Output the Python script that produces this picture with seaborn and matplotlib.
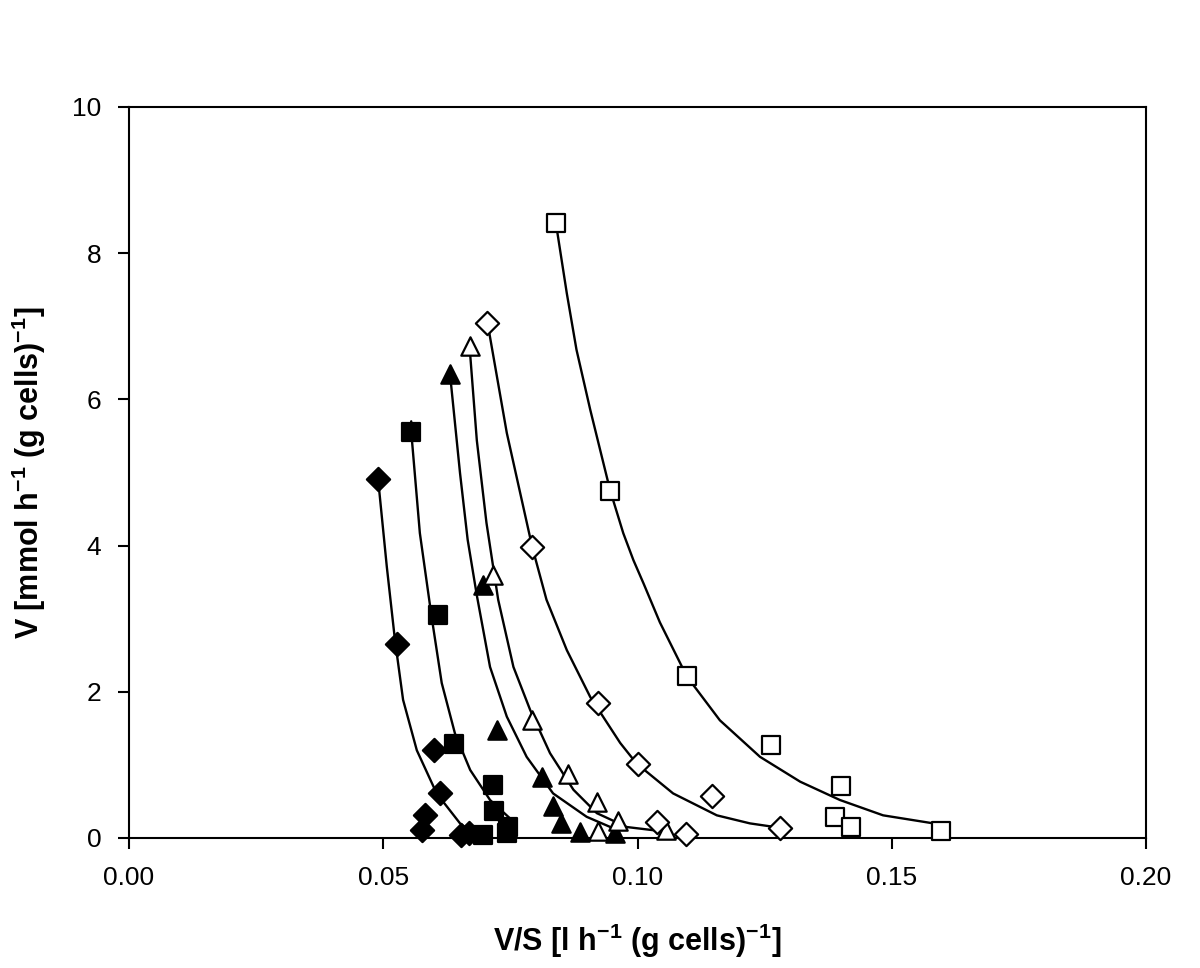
import matplotlib
matplotlib.use("Agg")
import matplotlib.pyplot as plt
import seaborn as sns

# measured points, six series
fd_x = [0.0490, 0.0528, 0.0600, 0.0611, 0.0582, 0.0577, 0.0652, 0.0669]
fd_y = [4.91, 2.65, 1.21, 0.62, 0.32, 0.11, 0.04, 0.07]
fs_x = [0.0555, 0.0607, 0.0640, 0.0716, 0.0718, 0.0697, 0.0746, 0.0744]
fs_y = [5.56, 3.05, 1.29, 0.725, 0.37, 0.04, 0.15, 0.07]
ft_x = [0.0631, 0.0697, 0.0724, 0.0813, 0.0834, 0.0850, 0.0886, 0.0956]
ft_y = [6.35, 3.46, 1.48, 0.84, 0.44, 0.20, 0.08, 0.07]
ot_x = [0.0671, 0.0716, 0.0792, 0.0864, 0.0921, 0.0961, 0.0922, 0.1057]
ot_y = [6.73, 3.60, 1.61, 0.88, 0.49, 0.23, 0.09, 0.11]
od_x = [0.0705, 0.0793, 0.0923, 0.1000, 0.1146, 0.1038, 0.1095, 0.1280]
od_y = [7.05, 3.98, 1.85, 1.01, 0.58, 0.22, 0.06, 0.14]
os_x = [0.0840, 0.0946, 0.1097, 0.1263, 0.1400, 0.1388, 0.1420, 0.1597]
os_y = [8.41, 4.75, 2.21, 1.27, 0.71, 0.29, 0.15, 0.09]

# fitted curves
fd_cx = [0.0490, 0.0492, 0.0507, 0.0523, 0.0539, 0.0566, 0.0605, 0.0651, 0.0664]
fd_cy = [4.91, 4.76, 3.71, 2.71, 1.89, 1.20, 0.61, 0.20, 0.13]
fs_cx = [0.0555, 0.0555, 0.0572, 0.0595, 0.0615, 0.0641, 0.0671, 0.0710, 0.0749]
fs_cy = [5.70, 5.56, 4.17, 3.03, 2.12, 1.43, 0.93, 0.52, 0.27]
ft_cx = [0.0632, 0.0651, 0.0666, 0.0684, 0.0710, 0.0743, 0.0782, 0.0834, 0.0900, 0.0960]
ft_cy = [6.30, 4.99, 4.08, 3.32, 2.34, 1.66, 1.11, 0.61, 0.29, 0.11]
ot_cx = [0.0671, 0.0684, 0.0703, 0.0726, 0.0756, 0.0789, 0.0828, 0.0874, 0.0920, 0.0979, 0.1051]
ot_cy = [6.61, 5.44, 4.31, 3.26, 2.34, 1.75, 1.16, 0.66, 0.34, 0.15, 0.09]
od_cx = [0.0705, 0.0743, 0.0793, 0.0821, 0.0861, 0.0907, 0.0966, 0.0998, 0.1070, 0.1156, 0.1221, 0.1280]
od_cy = [7.05, 5.54, 3.98, 3.26, 2.57, 1.93, 1.30, 1.02, 0.61, 0.31, 0.20, 0.14]
os_cx = [0.0840, 0.0861, 0.0880, 0.0907, 0.0946, 0.0972, 0.0992, 0.1012, 0.1044, 0.1097,
         0.1162, 0.1241, 0.1320, 0.1398, 0.1483, 0.1582, 0.1598]
os_cy = [8.39, 7.45, 6.68, 5.86, 4.76, 4.17, 3.80, 3.48, 2.95, 2.21,
         1.61, 1.11, 0.77, 0.52, 0.31, 0.20, 0.18]

sns.set_style("ticks")
plt.rcParams["font.family"] = ["Liberation Sans", "DejaVu Sans"]
plt.rcParams["mathtext.fontset"] = "custom"
plt.rcParams["mathtext.rm"] = "Liberation Sans"
plt.rcParams["mathtext.bf"] = "Liberation Sans:bold"

fig = plt.figure(figsize=(12, 9.68), dpi=100)
ax = fig.add_axes([0.1075, 0.1343, 0.8475, 0.7552])

curves = [(fd_cx, fd_cy), (fs_cx, fs_cy), (ft_cx, ft_cy),
          (ot_cx, ot_cy), (od_cx, od_cy), (os_cx, os_cy)]
for cx, cy in curves:
    sns.lineplot(x=cx, y=cy, sort=False, estimator=None, color="black",
                 linewidth=1.7, ax=ax)

series = [
    (fd_x, fd_y, "D", "black", 140),
    (fs_x, fs_y, "s", "black", 150),
    (ft_x, ft_y, "^", "black", 175),
    (ot_x, ot_y, "^", "white", 175),
    (od_x, od_y, "D", "white", 140),
    (os_x, os_y, "s", "white", 150),
]
for sx, sy, mk, fc, size in series:
    sns.scatterplot(x=sx, y=sy, marker=mk, s=size, color=fc,
                    edgecolor="black", linewidth=1.6, ax=ax, zorder=3,
                    clip_on=False)

ax.set_xlim(0, 0.20)
ax.set_ylim(0, 10)
ax.set_xticks([0.00, 0.05, 0.10, 0.15, 0.20])
ax.set_xticklabels(["0.00", "0.05", "0.10", "0.15", "0.20"])
ax.set_yticks([0, 2, 4, 6, 8, 10])
for sp in ax.spines.values():
    sp.set_linewidth(1.5)
    sp.set_color("black")
ax.tick_params(direction="out", length=8, width=1.5, labelsize=19,
               colors="black", pad=12)

ax.set_xlabel(r"V/S [l h$^{\mathregular{-1}}$ (g cells)$^{\mathregular{-1}}$]",
              fontsize=22, fontweight="bold", color="black")
ax.set_ylabel(r"V [mmol h$^{\mathregular{-1}}$ (g cells)$^{\mathregular{-1}}$]",
              fontsize=22, fontweight="bold", color="black")
ax.xaxis.set_label_coords(0.5, -0.115)
ax.yaxis.set_label_coords(-0.08, 0.5)

fig.savefig("out.png", dpi=100)
